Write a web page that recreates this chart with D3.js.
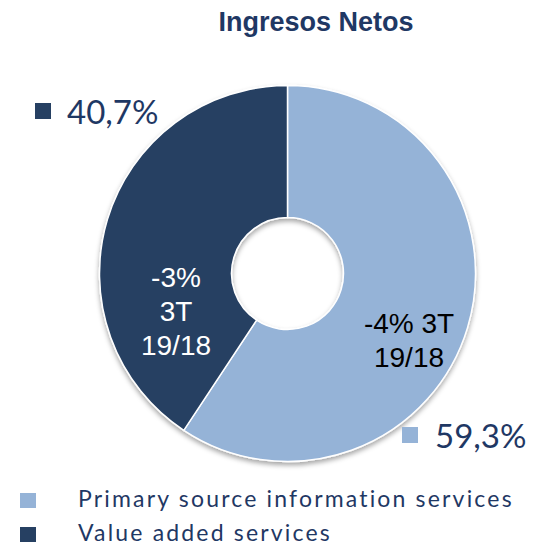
<!DOCTYPE html>
<html>
<head>
<meta charset="utf-8">
<script src="https://cdn.jsdelivr.net/npm/d3@7"></script>
<style>
html,body{margin:0;padding:0;background:#fff;}
svg{display:block;}
</style>
</head>
<body>
<svg id="chart" width="546" height="546"></svg>
<script>
const categories = ["Primary source information services", "Value added services"];
const shares = [59.3, 40.7];
const shareLabels = ["59,3%", "40,7%"];
const growthLabels = [["-4% 3T", "19/18"], ["-3%", "3T", "19/18"]];
const colors = ["#95B3D7", "#264062"];
const title = "Ingresos Netos";

const svg = d3.select("#chart");
const defs = svg.append("defs");
const f = defs.append("filter").attr("id","shadow").attr("x","-20%").attr("y","-20%").attr("width","140%").attr("height","140%");
f.append("feDropShadow").attr("dx",0).attr("dy",3).attr("stdDeviation",2.5).attr("flood-color","#000").attr("flood-opacity",0.35);

svg.append("text").attr("x", 316).attr("y", 31).attr("text-anchor","middle")
  .attr("font-family","Liberation Sans, Arial, sans-serif").attr("font-weight","bold")
  .attr("font-size", 27).attr("fill","#1F3864").text(title);

const cx = 287.5, cy = 273.5, R = 188, r = 56;
const pie = d3.pie().sort(null).value(d => d)(shares);
const arc = d3.arc().innerRadius(r).outerRadius(R);
const g = svg.append("g").attr("transform",`translate(${cx},${cy})`);
g.append("g").attr("filter","url(#shadow)").selectAll("path").data(pie).join("path")
  .attr("d", arc).attr("fill",(d,i)=>colors[i]).attr("stroke","#fff").attr("stroke-width",1.5);

// inner growth labels
const inner = [{x:409, y:333, fill:"#000"}, {x:176, y:287, fill:"#fff"}];
growthLabels.forEach((lines,i)=>{
  const t = svg.append("text").attr("text-anchor","middle")
    .attr("font-family","Liberation Sans, Arial, sans-serif").attr("font-size",28)
    .attr("fill", inner[i].fill);
  lines.forEach((l,j)=>t.append("tspan").attr("x",inner[i].x).attr("y",inner[i].y + j*34).text(l));
});

// share labels with markers
const shareLab = [{sx:402, sy:427, tx:435, ty:448}, {sx:35, sy:103, tx:67, ty:124}];
shareLab.forEach((p,i)=>{
  svg.append("rect").attr("x",p.sx).attr("y",p.sy).attr("width",16).attr("height",16).attr("fill",colors[i]);
  svg.append("text").attr("x",p.tx).attr("y",p.ty).attr("font-family","Lato, sans-serif")
    .attr("font-size",33).attr("fill","#1F3864").text(shareLabels[i]);
});

// legend
const legY = [493, 527];
const legTexts = [];
categories.forEach((c,i)=>{
  svg.append("rect").attr("x",20).attr("y",legY[i]).attr("width",16).attr("height",15).attr("fill",colors[i]);
  legTexts.push(svg.append("text").attr("x",78).attr("y",legY[i]+14).attr("font-family","Lato, sans-serif")
    .attr("font-size",23).attr("fill","#1F3864").text(c));
});
const w0 = legTexts[0].node().getComputedTextLength();
const ls = (434 - w0) / (categories[0].length - 1);
legTexts.forEach(t=>t.attr("letter-spacing", ls));
</script>
</body>
</html>
